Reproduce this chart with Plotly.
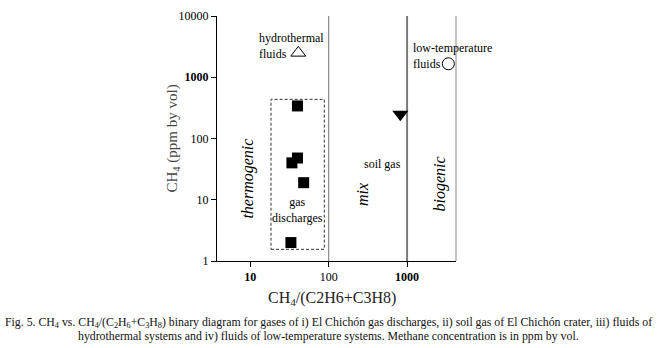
import plotly.graph_objects as go

# Data
gas_x = [40, 34, 40, 48, 33]
gas_y = [340, 40, 48, 19, 2.0]
soil_x = [820]
soil_y = [250]
hydro_x = [41]
hydro_y = [2500]
lowt_x = [3360]
lowt_y = [1660]
box_x = [18.4, 88]
box_y = [1.55, 436]
boundary_x = [100, 1000]
x_tickvals = [10, 100, 1000]
x_ticktext = ["<b>10</b>", "100", "<b>1000</b>"]
y_tickvals = [1, 10, 100, 1000, 10000]
y_ticktext = ["1", "10", "100", "<b>1000</b>", "10000"]

SERIF = "Liberation Serif, Times New Roman, serif"

fig = go.Figure()

# boundary lines
for bx, col, w in zip(boundary_x, ["#8a8a8a", "#7a7a7a"], [1.2, 2]):
    fig.add_trace(go.Scatter(x=[bx, bx], y=[1, 10000], mode="lines",
                             line=dict(color=col, width=w), hoverinfo="skip",
                             showlegend=False, cliponaxis=False))

# dashed box around gas discharges
fig.add_trace(go.Scatter(
    x=[box_x[0], box_x[1], box_x[1], box_x[0], box_x[0]],
    y=[box_y[0], box_y[0], box_y[1], box_y[1], box_y[0]],
    mode="lines", line=dict(color="#333", width=1, dash="3px,2px"),
    hoverinfo="skip", showlegend=False))

fig.add_trace(go.Scatter(x=gas_x, y=gas_y, mode="markers",
                         marker=dict(symbol="square", size=11, color="black"),
                         showlegend=False))
fig.add_trace(go.Scatter(x=soil_x, y=soil_y, mode="markers",
                         marker=dict(symbol="triangle-down", size=14, color="black"),
                         showlegend=False))
fig.add_trace(go.Scatter(x=hydro_x, y=hydro_y, mode="markers",
                         marker=dict(symbol="triangle-up-open", size=13, color="black",
                                     line=dict(width=1)),
                         showlegend=False, cliponaxis=False))
fig.add_trace(go.Scatter(x=lowt_x, y=lowt_y, mode="markers",
                         marker=dict(symbol="circle-open", size=12, color="black",
                                     line=dict(width=1)),
                         showlegend=False, cliponaxis=False))

# right edge line
fig.add_shape(type="line", xref="paper", yref="paper", x0=1, x1=1, y0=0, y1=1,
              line=dict(color="#c4c4c4", width=2))

ann = []
def A(text, x, y, size=12, angle=0, italic=False, xanchor="center", align="center", **kw):
    t = f"<i>{text}</i>" if italic else text
    ann.append(dict(text=t, x=x, y=y, xref="x", yref="y", showarrow=False,
                    textangle=angle, xanchor=xanchor, align=align,
                    font=dict(family=SERIF, size=size, color="black"), **kw))

A("thermogenic", 0.975, 1.35, size=16, angle=-90, italic=True)
A("mix", 2.44, 1.08, size=16, angle=-90, italic=True)
A("biogenic", 3.42, 1.25, size=16, angle=-90, italic=True)
A("soil gas", 2.69, 1.59, size=12)
A("gas<br>discharges", 1.6, 0.83, size=12)
A("hydrothermal<br>fluids", 1.09, 3.51, size=12, xanchor="left", align="left")
A("low-temperature<br>fluids", 3.055, 3.35, size=12, xanchor="left", align="left")

# axis titles
ann.append(dict(text="CH<sub>4</sub> (ppm by vol)", xref="paper", yref="paper",
                x=0, y=0.5, xshift=-56, textangle=-90, showarrow=False,
                font=dict(family=SERIF, size=15, color="#444")))
ann.append(dict(text="CH<sub>4</sub>/(C2H6+C3H8)", xref="paper", yref="paper",
                x=0.482, y=0, yshift=-37, yanchor="middle", showarrow=False,
                font=dict(family=SERIF, size=16, color="#222")))

# caption
cap_x = (328.5 - 216.7) / 239
ann.append(dict(text="Fig. 5. CH<sub>4</sub> vs. CH<sub>4</sub>/(C<sub>2</sub>H<sub>6</sub>+C<sub>3</sub>H<sub>8</sub>) "
                     "binary diagram for gases of i) El Chichón gas discharges, ii) soil gas of El Chichón crater, iii) fluids of",
                xref="paper", yref="paper", x=cap_x, y=0, yshift=-61,
                yanchor="middle", showarrow=False,
                font=dict(family=SERIF, size=11.8, color="#111")))
ann.append(dict(text="hydrothermal systems and iv) fluids of low-temperature systems. Methane concentration is in ppm by vol.",
                xref="paper", yref="paper", x=cap_x, y=0, yshift=-75,
                yanchor="middle", showarrow=False,
                font=dict(family=SERIF, size=11.8, color="#111")))

fig.update_layout(
    width=657, height=348,
    margin=dict(l=217, r=201, t=9, b=87),
    paper_bgcolor="white", plot_bgcolor="white",
    annotations=ann,
    xaxis=dict(type="log", range=[0.576, 3.624], showgrid=False, zeroline=False,
               showline=True, linecolor="black", linewidth=1,
               ticks="outside", ticklen=5, tickcolor="black",
               tickvals=x_tickvals, ticktext=x_ticktext,
               tickfont=dict(family=SERIF, size=12, color="black")),
    yaxis=dict(type="log", range=[0, 4], showgrid=False, zeroline=False,
               showline=True, linecolor="black", linewidth=1,
               ticks="outside", ticklen=5, tickcolor="black",
               tickvals=y_tickvals, ticktext=y_ticktext,
               tickfont=dict(family=SERIF, size=12, color="black")),
)

fig.write_html("out.html", config={"displayModeBar": False},
               post_script="document.body.style.margin='0';document.body.style.overflow='hidden';")
